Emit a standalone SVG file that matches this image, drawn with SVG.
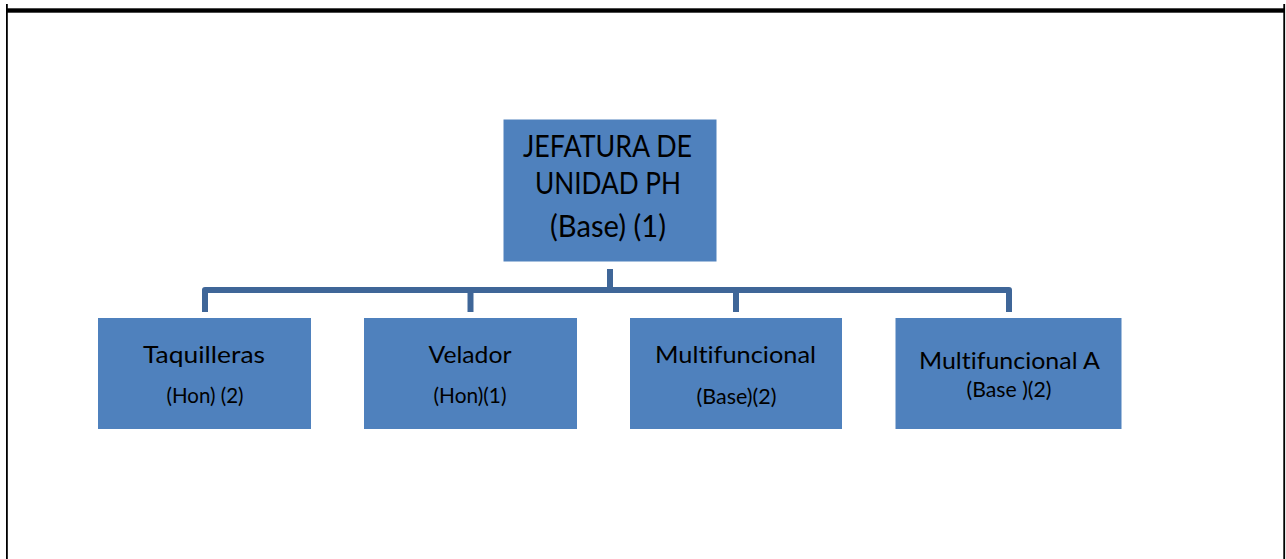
<svg xmlns="http://www.w3.org/2000/svg" width="1286" height="559" viewBox="0 0 1286 559">
<style>
.box{fill:#4F81BD;stroke:#ffffff;stroke-width:1}
.t{font-family:Lato,"Liberation Sans",sans-serif;fill:#000;text-anchor:middle;font-variant-ligatures:none;font-feature-settings:"liga" 0}
.big{font-size:30px}
.mid{font-size:23.5px}
.sm{font-size:21px}
.conn{fill:none;stroke:#3F6698;stroke-width:6;stroke-linejoin:round}
</style>
<rect width="1286" height="559" fill="#ffffff"/>
<g id="frame">
<rect x="6" y="4" width="1.8" height="555" fill="#000"/>
<rect x="1283.3" y="4" width="1.8" height="555" fill="#000"/>
<rect x="6" y="8.3" width="1279" height="4.4" fill="#000"/>
</g>
<g id="connectors">
<path class="conn" d="M610 269 V290"/>
<path class="conn" d="M205 312 V290 H1009 V312"/>
<path class="conn" d="M470.5 290 V312"/>
<path class="conn" d="M736 290 V312"/>
</g>
<g id="jefatura">
<rect class="box" x="503" y="119" width="214" height="143"/>
<text class="t big" x="607.5" y="157" textLength="169" lengthAdjust="spacingAndGlyphs">JEFATURA DE</text>
<text class="t big" x="608" y="193.5" textLength="146" lengthAdjust="spacingAndGlyphs">UNIDAD PH</text>
<text class="t big" x="608" y="237" textLength="116" lengthAdjust="spacingAndGlyphs">(Base) (1)</text>
</g>
<g id="taquilleras">
<rect class="box" x="97.5" y="317.5" width="214" height="112"/>
<text class="t mid" x="204" y="363.3" textLength="122" lengthAdjust="spacingAndGlyphs">Taquilleras</text>
<text class="t sm" x="205" y="403.3" textLength="77" lengthAdjust="spacingAndGlyphs">(Hon) (2)</text>
</g>
<g id="velador">
<rect class="box" x="363.5" y="317.5" width="214" height="112"/>
<text class="t mid" x="470" y="363.3" textLength="83" lengthAdjust="spacingAndGlyphs">Velador</text>
<text class="t sm" x="470" y="403.3" textLength="73" lengthAdjust="spacingAndGlyphs">(Hon)(1)</text>
</g>
<g id="multifuncional">
<rect class="box" x="629.5" y="317.5" width="213" height="112"/>
<text class="t mid" x="735.5" y="363.3" textLength="161" lengthAdjust="spacingAndGlyphs">Multifuncional</text>
<text class="t sm" x="736.5" y="404" textLength="80" lengthAdjust="spacingAndGlyphs">(Base)(2)</text>
</g>
<g id="multifuncional-a">
<rect class="box" x="895" y="317.5" width="227" height="112"/>
<text class="t mid" x="1009.5" y="369.3" textLength="181" lengthAdjust="spacingAndGlyphs">Multifuncional A</text>
<text class="t sm" x="1009" y="397.3" textLength="85" lengthAdjust="spacingAndGlyphs">(Base )(2)</text>
</g>
</svg>
